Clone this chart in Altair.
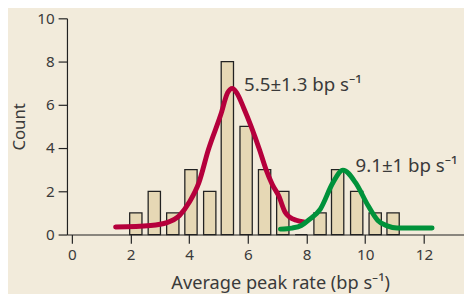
import altair as alt
import pandas as pd

# Histogram (bin centers, counts)
bin_centers = [2.18, 2.81, 3.44, 4.06, 4.70, 5.30, 5.94, 6.57, 7.19, 7.82, 8.46, 9.06, 9.71, 10.34, 10.95]
counts = [1, 2, 1, 3, 2, 8, 5, 3, 2, 0, 1, 3, 2, 1, 1]

# Red fitted curve
red_x = [1.49, 2.68, 3.24, 3.67, 4.00, 4.33, 4.65, 5.08, 5.31, 5.47, 5.62, 5.85, 6.12, 6.40, 6.62, 6.83, 7.05, 7.27, 7.43, 7.65, 7.90]
red_y = [0.35, 0.42, 0.55, 0.88, 1.49, 2.40, 3.91, 5.56, 6.56, 6.76, 6.55, 5.88, 4.97, 3.91, 3.00, 2.32, 1.79, 1.03, 0.80, 0.66, 0.58]

# Green fitted curve
green_x = [7.11, 7.50, 7.82, 8.10, 8.47, 8.90, 9.24, 9.67, 10.10, 10.43, 10.75, 11.09, 12.28]
green_y = [0.25, 0.30, 0.42, 0.70, 1.18, 2.40, 2.98, 2.40, 1.33, 0.65, 0.40, 0.30, 0.30]

# Annotations
ann_text = ["5.5\u00b11.3 bp s\u207b\u00b9", "9.1\u00b11 bp s\u207b\u00b9"]
ann_x = [5.87, 9.67]
ann_y = [6.64, 2.90]

FONT = "Noto Sans"
TXT = "#3a3a3a"

hist = pd.DataFrame({"rate": bin_centers, "count": counts})
red = pd.DataFrame({"rate": red_x, "count": red_y, "order": list(range(len(red_x)))})
green = pd.DataFrame({"rate": green_x, "count": green_y, "order": list(range(len(green_x)))})
ann = pd.DataFrame({"rate": ann_x, "count": ann_y, "label": ann_text})

xscale = alt.Scale(domain=[0, 13.2], nice=False, zero=False)
yscale = alt.Scale(domain=[0, 10], nice=False)

xaxis = alt.Axis(values=[0, 2, 4, 6, 8, 10, 12], title="Average peak rate (bp s\u207b\u00b9)",
                 titleX=217, titlePadding=11, titleFontSize=18.5)
yaxis = alt.Axis(values=[0, 2, 4, 6, 8, 10], title="Count", titlePadding=8, titleFontSize=17)

bars = alt.Chart(hist).mark_bar(size=12.5, fill="#E6D8B5", stroke="#222222", strokeWidth=1.3).encode(
    x=alt.X("rate:Q", scale=xscale, axis=xaxis),
    y=alt.Y("count:Q", scale=yscale, axis=yaxis),
)

red_line = alt.Chart(red).mark_line(color="#B5003C", strokeWidth=5, strokeCap="round",
                                    interpolate="monotone").encode(
    x="rate:Q", y="count:Q", order="order:Q")

green_line = alt.Chart(green).mark_line(color="#00923A", strokeWidth=5, strokeCap="round",
                                        interpolate="monotone").encode(
    x="rate:Q", y="count:Q", order="order:Q")

labels = alt.Chart(ann).mark_text(align="left", baseline="alphabetic", font=FONT,
                                  fontSize=19, color=TXT).encode(
    x="rate:Q", y="count:Q", text="label:N")

chart = alt.layer(bars, red_line, green_line, labels).properties(
    width=404, height=220,
    autosize=alt.AutoSizeParams(type="none"),
    padding={"left": 60, "top": 8, "right": 0, "bottom": 58},
    background="#F2EBDB",
).configure_view(stroke=None).configure_axis(
    grid=False,
    domainColor="#222222", domainWidth=1.2,
    tickColor="#222222", tickWidth=1.2, tickSize=9,
    labelFont=FONT, labelFontSize=15.5, labelColor=TXT, labelPadding=4,
    titleFont=FONT, titleColor=TXT, titleFontWeight="normal",
)

chart.save("out.html", embed_options={"renderer": "svg", "actions": False})
